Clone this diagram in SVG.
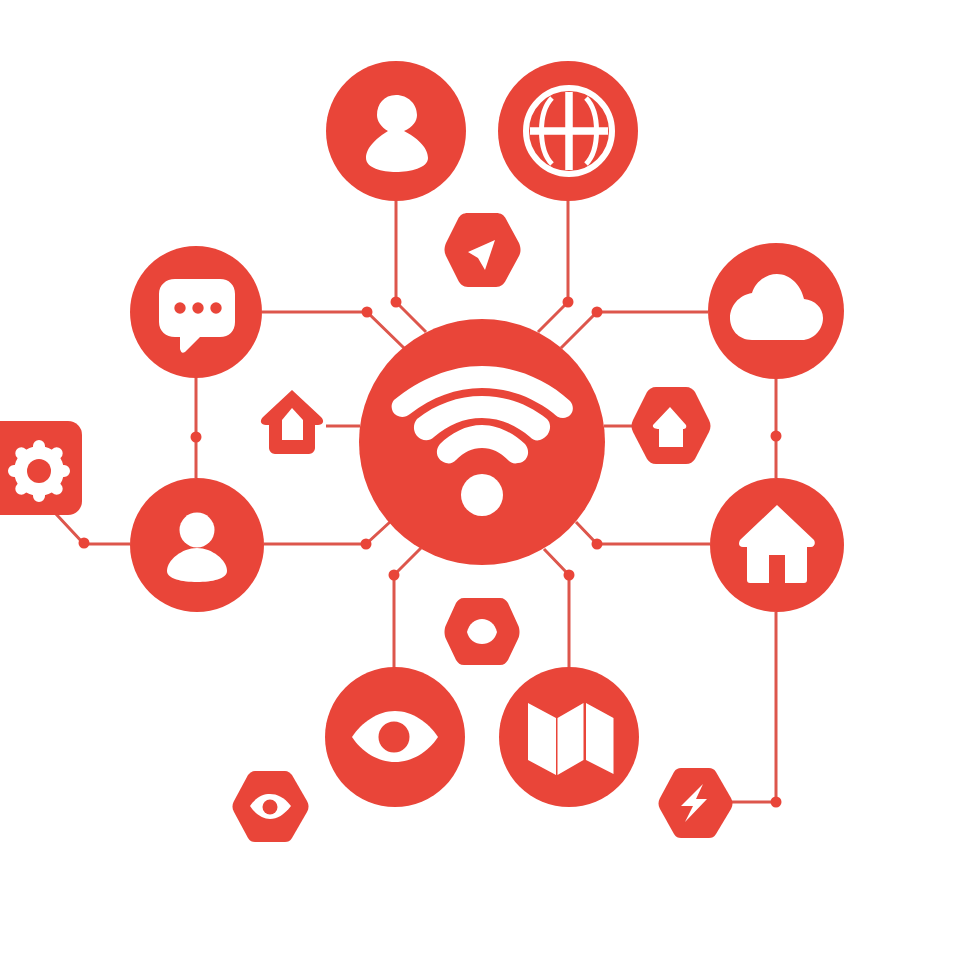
<svg xmlns="http://www.w3.org/2000/svg" width="964" height="965" viewBox="0 0 964 965">
<style>
.c{fill:#e94539}
.w{fill:#fff}
.l{stroke:#dd564c;stroke-width:3;fill:none}
.ws{stroke:#fff;fill:none;stroke-linecap:round}
.d{fill:#e94539}
</style>
<rect width="964" height="965" fill="#fff"/>
<g id="connectors">
<path class="l" d="M396 200V302L426 332M568 200V302L538 332M262 312H367L404 348M708 312H597L561 348M196 377V478M776 378V478M264 544H366L390 522M710 544H597L576 522M394 668V575L421 548M569 668V575L544 549M326 426H360M604 426H634M130 544H84L56 514M776 612V802H730"/>
<circle class="d" cx="396" cy="302" r="5.5"/><circle class="d" cx="568" cy="302" r="5.5"/>
<circle class="d" cx="367" cy="312" r="5.5"/><circle class="d" cx="597" cy="312" r="5.5"/>
<circle class="d" cx="196" cy="437" r="5.5"/><circle class="d" cx="776" cy="436" r="5.5"/>
<circle class="d" cx="84" cy="543" r="5.5"/><circle class="d" cx="366" cy="544" r="5.5"/>
<circle class="d" cx="597" cy="544" r="5.5"/><circle class="d" cx="394" cy="575" r="5.5"/>
<circle class="d" cx="569" cy="575" r="5.5"/><circle class="d" cx="776" cy="802" r="5.5"/>
</g>
<g id="wifi">
<circle class="c" cx="482" cy="442" r="123"/>
<path class="w" d="M394 400C420 379 450 366 482 366C514 366 546 379 570 401C576 408 572 418 563 418C559 418 556 416 553 413C532 397 508 388 482 388C456 388 432 397 410 414C404 419 396 417 393 412C391 407 391 404 394 400Z"/>
<path class="w" d="M417 419C436 404 458 396 482 396C506 396 528 404 547 419C553 425 550 437 540 440C536 441 533 440 530 437C516 425 500 418 482 418C464 418 448 425 434 437C430 441 425 441 421 439C413 435 412 425 417 419Z"/>
<path class="w" d="M440 444C451 433 466 425 482 425C498 425 513 433 525 444C531 451 528 462 518 463C514 464 511 463 508 460C500 452 492 448 482 448C472 448 464 452 456 460C453 463 450 464 446 463C437 461 434 451 440 444Z"/>
<circle class="w" cx="482" cy="495" r="21"/>
</g>
<g id="user-top">
<circle class="c" cx="396" cy="131" r="70"/>
<path class="w" d="M388 131C378 137 366 147 366 158C366 168 382 172 396 172C410 172 428 168 428 158C428 147 416 137 404 131C413 127 417 121 417 115C417 104 408 95 396 95C384 95 377 104 377 115C377 121 381 127 388 131Z"/>
</g>
<g id="globe">
<circle class="c" cx="568" cy="131" r="70"/>
<g class="ws">
<circle cx="569" cy="131" r="43" stroke-width="6"/>
<path d="M530 131H608M569 92V170" stroke-width="7.500" stroke-linecap="butt"/>
<path d="M552 98C538 112 538 150 552 164M586 98C600 112 600 150 586 164" stroke-width="5" stroke-linecap="butt"/>
</g>
</g>
<g id="chat">
<circle class="c" cx="196" cy="312" r="66"/>
<path class="w" d="M175 279H220C229 279 235 285 235 294V322C235 331 229 337 220 337H200L185 352C182 354 181 352 180 349V337H175C166 337 159 331 159 322V294C159 285 166 279 175 279Z"/>
<circle class="c" cx="180" cy="308" r="5.700"/><circle class="c" cx="198" cy="308" r="5.700"/><circle class="c" cx="216" cy="308" r="5.700"/>
</g>
<g id="cloud">
<circle class="c" cx="776" cy="311" r="68"/>
<path class="w" d="M752 340C738 340 730 329 730 318C730 306 739 295 752 293C755 282 766 274 777 274C790 274 801 285 804 299C815 300 823 308 823 318C823 330 813 340 802 340Z"/>
</g>
<g id="user-left">
<circle class="c" cx="197" cy="545" r="67"/>
<circle class="w" cx="197" cy="530" r="17.500"/>
<path class="w" d="M197 548C212 548 227 560 227 571C227 579 212 582 197 582C182 582 167 579 167 571C167 560 182 548 197 548Z"/>
</g>
<g id="home">
<circle class="c" cx="777" cy="545" r="67"/>
<path class="w" d="M777 505L814 540C816 544 814 547 811 547H807V580C807 582 806 583 804 583H785V555H769V583H750C748 583 747 582 747 580V547H743C739 547 738 544 740 540Z"/>
</g>
<g id="eye">
<circle class="c" cx="395" cy="737" r="70"/>
<path class="w" d="M352 737C362 722 378 711 395 711C412 711 428 722 438 737C428 752 412 762 395 762C378 762 362 752 352 737Z"/>
<circle class="c" cx="394" cy="737" r="15.500"/>
</g>
<g id="map">
<circle class="c" cx="569" cy="737" r="70"/>
<path class="w" d="M528 703L556 718V775L528 760ZM557.500 718L583.500 703V760L557.500 775ZM586 703L613.500 718V774L586 760Z"/>
</g>
<g id="gear">
<rect class="c" x="-20" y="421" width="102" height="94" rx="14"/>
<circle class="w" cx="39" cy="471" r="25"/>
<path class="ws" stroke-width="12" d="M39 446V496M14 471H64M21.300 453.300L56.700 488.700M56.700 453.300L21.300 488.700"/>
<circle class="c" cx="39" cy="471" r="12"/>
</g>
<g id="home-outline">
<path class="c" d="M292 390L321 417C325 421 323 425 318 425H315V448C315 451 312 454 309 454H275C272 454 269 451 269 448V425H266C261 425 259 421 263 417Z"/>
<path class="w" d="M292 408L303 420V440H282V420Z"/>
</g>
<g id="hex-home">
<path class="c" d="M656 387H686C690 387 693 389 695 392L709 420C711 424 711 428 709 432L695 459C693 462 690 464 686 464H656C652 464 649 462 647 459L633 432C631 428 631 424 633 420L647 392C649 389 652 387 656 387Z"/>
<path class="w" d="M670 407L686 425C687 428 685 429 683 429V447H659V429C656 429 652 428 653 425Z"/>
</g>
<g id="hex-nav">
<path class="c" d="M468 213H496C501 213 504 215 506 219L519 243C521 248 521 252 519 256L506 280C504 284 501 287 496 287H468C463 287 460 284 458 280L446 256C444 252 444 248 446 243L458 219C460 215 463 213 468 213Z"/>
<path class="w" d="M495 240L485 270L478 258L468 252Z"/>
</g>
<g id="hex-eye">
<path class="c" d="M464 598H500C504 598 506 600 508 603L518 625C520 629 520 635 518 639L508 660C506 663 504 665 500 665H464C460 665 458 663 456 660L446 639C444 635 444 629 446 625L456 603C458 600 460 598 464 598Z"/>
<path class="w" d="M482 619C489 619 495 624 497 632C495 640 489 644 482 644C475 644 469 640 467 632C469 624 475 619 482 619Z"/>
</g>
<g id="hex-eye-small">
<path class="c" d="M255 771H285C288 771 290 773 292 775L307 801C309 805 309 808 307 812L292 838C290 841 288 842 285 842H255C252 842 250 841 248 838L234 812C232 808 232 805 234 801L248 775C250 773 252 771 255 771Z"/>
<path class="w" d="M250 806C256 797 263 794 270 794C277 794 284 797 291 806C284 815 277 819 270 819C263 819 256 815 250 806Z"/>
<circle class="c" cx="270" cy="807" r="7.500"/>
</g>
<g id="hex-bolt">
<path class="c" d="M681 768H709C712 768 714 769 716 772L731 798C733 802 733 805 731 809L716 834C714 837 712 838 709 838H681C678 838 676 837 674 834L660 809C658 805 658 802 660 798L674 772C676 769 678 768 681 768Z"/>
<path class="w" d="M703 784L681 806H693L685 822L707 799H696Z"/>
</g>
</svg>
